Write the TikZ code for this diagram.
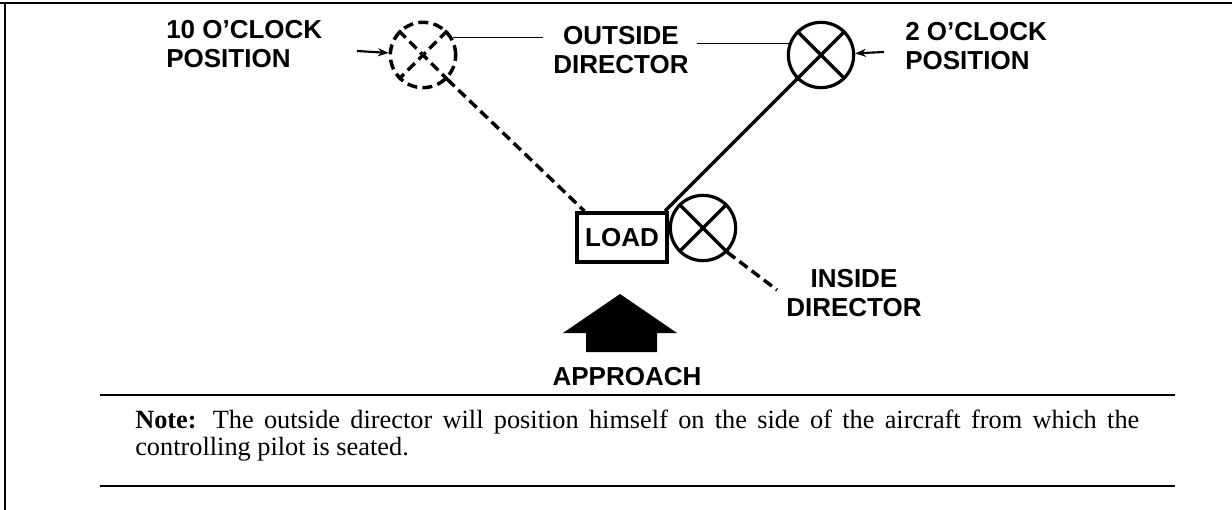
\documentclass[tikz,border=0pt]{standalone}
\usepackage{fontspec}
\setmainfont{Liberation Serif}
\newfontfamily\labelfont{Liberation Sans}
\usetikzlibrary{arrows.meta}
\begin{document}
\begin{tikzpicture}[x=0.75pt,y=-0.75pt,
  lbl/.style={font=\labelfont\bfseries\fontsize{19.5}{21.5}\selectfont, inner sep=0pt},
  marshal/.style={circle, draw, line width=2.4pt, minimum size=49pt, inner sep=0pt},
  dashline/.style={line width=2.6pt, dash pattern=on 7.5pt off 4pt},
  pointer/.style={line width=1.6pt, -{Stealth[length=8pt,width=6pt]}}]
\useasboundingbox (0,0) rectangle (1232,510);
\draw[line width=1.5pt] (0,3) -- (1232,3);
\draw[line width=1.5pt] (5,3) -- (5,510);
\node[marshal, dashline] (tenpos) at (423,55) {};
\node[marshal] (twopos) at (821,55) {};
\node[marshal] (inner) at (703,228) {};
\draw[dashline] (tenpos.north west) -- (tenpos.south east) (tenpos.north east) -- (tenpos.south west);
\foreach \c in {twopos,inner}
  \draw[line width=2.4pt] (\c.north west) -- (\c.south east) (\c.north east) -- (\c.south west);
\node[lbl, align=left, anchor=west] (tenlbl) at (166,44) {10 O’CLOCK\\POSITION};
\node[lbl, align=left, anchor=west] (twolbl) at (905,46) {2 O’CLOCK\\POSITION};
\node[lbl, align=center] (outlbl) at (621,50) {OUTSIDE\\DIRECTOR};
\node[lbl, align=center] (inlbl) at (854,293) {INSIDE\\DIRECTOR};
\node[lbl, draw, line width=3pt, minimum width=67.5pt, minimum height=36.75pt] (load) at (622,237.5) {LOAD};
\coordinate (tenfrom) at (357,51);
\coordinate (twofrom) at (884,52);
\draw[pointer] (tenfrom) -- (tenpos);
\draw[pointer] (twofrom) -- (twopos);
\draw[line width=1pt] (tenpos.30) -- ([xshift=-7.5pt]tenpos.30 -| outlbl.west);
\draw[line width=1pt] (twopos.160) -- ([xshift=6pt]twopos.160 -| outlbl.east);
\draw[dashline] (tenpos.south east) -- ([xshift=7pt]load.north west);
\draw[line width=2.4pt] (twopos.south west) -- ([xshift=-3pt]load.north east);
\coordinate (inend) at (777,290);
\draw[dashline] (inner.south east) -- (inend);
\fill (620,294) -- (677,333) -- (657,333) -- (657,352) -- (586,352) -- (586,333) -- (563,333) -- cycle;
\node[lbl] (approach) at (627,377) {APPROACH};
\draw[line width=1.5pt] (100,395) -- (1175,395);
\draw[line width=1.5pt] (100,486) -- (1175,486);
\node[anchor=base west, text width=753pt, align=justify, inner sep=0pt,
  font={\fontsize{19.75}{20.25}\selectfont\tolerance=10000 \hyphenpenalty=10000\relax}] (note) at (135,428)
  {\textbf{Note:} The outside director will position himself on the side of the aircraft from which the controlling pilot is seated.};
\end{tikzpicture}
\end{document}
